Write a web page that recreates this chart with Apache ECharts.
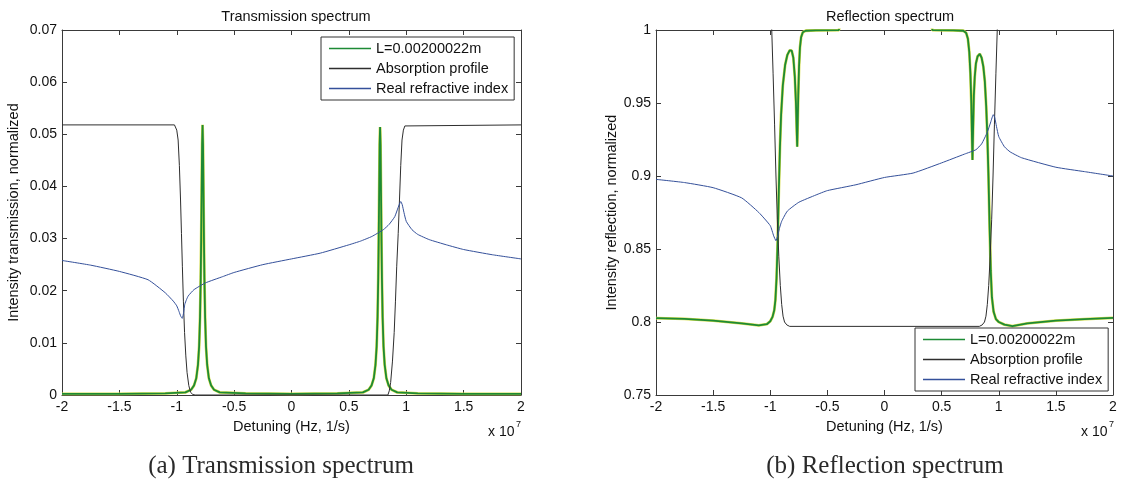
<!DOCTYPE html>
<html>
<head>
<meta charset="utf-8">
<script src="https://cdn.jsdelivr.net/npm/echarts@6/dist/echarts.min.js"></script>
<style>
  html, body { margin: 0; padding: 0; background: #fff; }
  #chart { width: 1123px; height: 485px; }
</style>
</head>
<body>
<div id="chart"></div>
<script>
// Detuning is stored in units of 1e7 Hz (axis shows "x 10^7").
const seriesNames = ['L=0.00200022m', 'Absorption profile', 'Real refractive index'];
const xTicks = { min: -2, max: 2, interval: 0.5 };
const transTicks = { min: 0, max: 0.07, interval: 0.01 };
const reflTicks = { min: 0.75, max: 1, interval: 0.05 };

// Transmission: cavity signal for L = 0.00200022 m
const transSignal = [
  [-2, 0.0002], [-1.5, 0.0002], [-1.1, 0.0003], [-0.925, 0.0005], [-0.875, 0.001],
  [-0.85, 0.0018], [-0.83, 0.0032], [-0.815, 0.0058], [-0.805, 0.0093], [-0.797, 0.015],
  [-0.791, 0.0225], [-0.787, 0.03], [-0.783, 0.039], [-0.779, 0.048], [-0.775, 0.0518],
  [-0.771, 0.048], [-0.767, 0.039], [-0.763, 0.03], [-0.759, 0.0225], [-0.753, 0.015],
  [-0.745, 0.0093], [-0.735, 0.0058], [-0.72, 0.0032], [-0.7, 0.0018], [-0.675, 0.001],
  [-0.625, 0.0005], [-0.4, 0.0003], [0, 0.0002], [0.4, 0.0003], [0.622, 0.0005],
  [0.672, 0.001], [0.697, 0.0018], [0.717, 0.0032], [0.732, 0.0058], [0.742, 0.0093],
  [0.75, 0.015], [0.756, 0.0225], [0.76, 0.03], [0.764, 0.039], [0.768, 0.048],
  [0.772, 0.0514], [0.776, 0.048], [0.78, 0.039], [0.784, 0.03], [0.788, 0.0225],
  [0.794, 0.015], [0.802, 0.0093], [0.812, 0.0058], [0.827, 0.0032], [0.847, 0.0018],
  [0.872, 0.001], [0.922, 0.0005], [1.1, 0.0003], [1.5, 0.0002], [2, 0.0002]
];

// Transmission: absorption profile
const transAbsorption = [
  [-2, 0.0518], [-1.02, 0.0518], [-1.0, 0.0508], [-0.988, 0.0489], [-0.977, 0.044],
  [-0.967, 0.0374], [-0.959, 0.031], [-0.951, 0.0247], [-0.942, 0.018], [-0.932, 0.012],
  [-0.921, 0.0075], [-0.91, 0.0043], [-0.895, 0.0018], [-0.879, 0.0005], [-0.86, 0.0001],
  [-0.84, 0], [0.84, 0], [0.852, 0.0008], [0.864, 0.0024], [0.88, 0.0065],
  [0.895, 0.012], [0.906, 0.018], [0.917, 0.0247], [0.93, 0.031], [0.941, 0.0374],
  [0.952, 0.044], [0.963, 0.0489], [0.975, 0.0508], [0.988, 0.0516], [1.0, 0.0518],
  [2, 0.0518]
];

// Transmission: real part of the refractive index
const transIndex = [
  [-2, 0.0258], [-1.75, 0.0249], [-1.5, 0.0237], [-1.25, 0.0221], [-1.1, 0.0196],
  [-1.03, 0.018], [-1.0, 0.0171], [-0.98, 0.016], [-0.965, 0.0151], [-0.952, 0.0147],
  [-0.94, 0.0158], [-0.93, 0.0174], [-0.915, 0.0183], [-0.9, 0.019], [-0.85, 0.0202],
  [-0.75, 0.0215], [-0.6, 0.0227], [-0.5, 0.0235], [-0.25, 0.025], [0, 0.0261],
  [0.25, 0.0272], [0.5, 0.0288], [0.6, 0.0295], [0.7, 0.0304], [0.8, 0.0317],
  [0.85, 0.0327], [0.9, 0.0342], [0.93, 0.036], [0.952, 0.0371], [0.965, 0.0365],
  [0.98, 0.035], [1.0, 0.0333], [1.05, 0.0317], [1.1, 0.0308], [1.2, 0.0298],
  [1.35, 0.0288], [1.5, 0.0279], [1.75, 0.0269], [2, 0.0261]
];

// Reflection: cavity signal for L = 0.00200022 m
const reflSignal = [
  [-2, 0.8027], [-1.75, 0.8022], [-1.5, 0.801], [-1.25, 0.799], [-1.1, 0.7977],
  [-1.03, 0.7985], [-1.0, 0.8005], [-0.98, 0.8035], [-0.965, 0.808], [-0.955, 0.815],
  [-0.945, 0.83], [-0.935, 0.855], [-0.925, 0.89], [-0.915, 0.92], [-0.905, 0.942],
  [-0.89, 0.962], [-0.87, 0.976], [-0.85, 0.983], [-0.83, 0.986], [-0.812, 0.9858],
  [-0.798, 0.981], [-0.785, 0.968], [-0.775, 0.95], [-0.768, 0.93], [-0.764, 0.92],
  [-0.76, 0.935], [-0.755, 0.955], [-0.748, 0.975], [-0.74, 0.988], [-0.73, 0.995],
  [-0.715, 0.9985], [-0.69, 0.9995], [-0.6, 0.9998], [-0.4, 0.9999], [-0.38, 1.006],
  [0.4, 1.006], [0.42, 0.9999], [0.6, 0.9998], [0.69, 0.9995], [0.715, 0.998],
  [0.73, 0.994], [0.742, 0.985], [0.752, 0.97], [0.76, 0.95], [0.766, 0.925],
  [0.77, 0.911], [0.775, 0.93], [0.782, 0.955], [0.79, 0.968], [0.8, 0.977],
  [0.815, 0.982], [0.834, 0.9836], [0.85, 0.981], [0.865, 0.975], [0.878, 0.965],
  [0.89, 0.948], [0.9, 0.928], [0.91, 0.9], [0.92, 0.865], [0.93, 0.835],
  [0.94, 0.817], [0.955, 0.807], [0.975, 0.802], [1.0, 0.8], [1.05, 0.7982],
  [1.12, 0.7972], [1.25, 0.799], [1.5, 0.801], [1.75, 0.802], [2, 0.8028]
];

// Reflection: absorption profile (runs above the top of the axis outside the band)
const reflAbsorption = [
  [-2, 1.06], [-1.02, 1.06], [-1.0, 1.03], [-0.987, 1.0], [-0.975, 0.97],
  [-0.962, 0.935], [-0.95, 0.9], [-0.938, 0.87], [-0.925, 0.845], [-0.912, 0.825],
  [-0.9, 0.812], [-0.888, 0.804], [-0.875, 0.8], [-0.855, 0.798], [-0.83, 0.797],
  [0.83, 0.797], [0.855, 0.798], [0.875, 0.8], [0.888, 0.804], [0.9, 0.812],
  [0.912, 0.825], [0.925, 0.845], [0.938, 0.87], [0.95, 0.9], [0.962, 0.935],
  [0.975, 0.97], [0.987, 1.0], [1.0, 1.03], [1.02, 1.06], [2, 1.06]
];

// Reflection: real part of the refractive index
const reflIndex = [
  [-2, 0.8977], [-1.75, 0.8955], [-1.5, 0.892], [-1.25, 0.885], [-1.1, 0.875],
  [-1.0, 0.866], [-0.97, 0.859], [-0.95, 0.8557], [-0.935, 0.859], [-0.92, 0.864],
  [-0.9, 0.869], [-0.85, 0.876], [-0.75, 0.882], [-0.6, 0.887], [-0.5, 0.89],
  [-0.25, 0.894], [0, 0.899], [0.25, 0.902], [0.5, 0.909], [0.7, 0.915],
  [0.8, 0.918], [0.85, 0.922], [0.9, 0.93], [0.93, 0.937], [0.952, 0.942],
  [0.965, 0.94], [0.98, 0.934], [1.0, 0.927], [1.05, 0.92], [1.1, 0.9165],
  [1.2, 0.9125], [1.5, 0.906], [1.75, 0.903], [2, 0.9]
];

const FONT = '"Liberation Sans", Arial, sans-serif';
const SERIF = '"Liberation Serif", "DejaVu Serif", serif';
const FS = 14.5;
const AXIS_COLOR = '#3a3a3a';
const TEXT_COLOR = '#111';
const GREEN = '#1d8a35';
const HALO = '#d4dc4a';
const BLACK = '#2e2e2e';
const BLUE = '#34509a';

const grids = [
  { left: 62, top: 30, width: 459, height: 365 },
  { left: 656, top: 30, width: 457, height: 365 }
];

function fmt(v) { return String(+v.toFixed(2)); }

function xAxes(gi) {
  const base = {
    type: 'value', gridIndex: gi, min: xTicks.min, max: xTicks.max, interval: xTicks.interval,
    splitLine: { show: false },
    axisLine: { onZero: false, lineStyle: { color: AXIS_COLOR, width: 1 } },
    axisTick: { inside: true, length: 5, lineStyle: { color: AXIS_COLOR } }
  };
  return [
    Object.assign({}, base, {
      position: 'bottom',
      name: 'Detuning (Hz, 1/s)', nameLocation: 'middle', nameGap: 24,
      nameTextStyle: { fontFamily: FONT, fontSize: FS, color: TEXT_COLOR },
      axisLabel: { fontFamily: FONT, fontSize: 14, color: TEXT_COLOR, margin: 5, formatter: fmt }
    }),
    Object.assign({}, base, { position: 'top', axisLabel: { show: false } })
  ];
}

function yAxes(gi, ticks, name, gap) {
  const base = {
    type: 'value', gridIndex: gi, min: ticks.min, max: ticks.max, interval: ticks.interval,
    splitLine: { show: false },
    axisLine: { onZero: false, lineStyle: { color: AXIS_COLOR, width: 1 } },
    axisTick: { inside: true, length: 5, lineStyle: { color: AXIS_COLOR } }
  };
  return [
    Object.assign({}, base, {
      position: 'left',
      name: name, nameLocation: 'middle', nameGap: gap, nameRotate: 90,
      nameTextStyle: { fontFamily: FONT, fontSize: FS, color: TEXT_COLOR },
      axisLabel: { fontFamily: FONT, fontSize: 14, color: TEXT_COLOR, margin: 5, formatter: fmt }
    }),
    Object.assign({}, base, { position: 'right', axisLabel: { show: false } })
  ];
}

function lines(gi, signal, absorption, index) {
  const common = { type: 'line', xAxisIndex: gi * 2, yAxisIndex: gi * 2, showSymbol: false, symbol: 'none', clip: true, animation: false };
  return [
    Object.assign({}, common, { name: 'halo', data: signal, lineStyle: { color: HALO, width: 2.8 }, itemStyle: { color: HALO }, silent: true }),
    Object.assign({}, common, { name: seriesNames[0], data: signal, lineStyle: { color: GREEN, width: 1.8 }, itemStyle: { color: GREEN } }),
    Object.assign({}, common, { name: seriesNames[1], data: absorption, lineStyle: { color: BLACK, width: 1 }, itemStyle: { color: BLACK } }),
    Object.assign({}, common, { name: seriesNames[2], data: index, smooth: 0.15, lineStyle: { color: BLUE, width: 1 }, itemStyle: { color: BLUE } })
  ];
}

function legend(left, top) {
  return {
    left: left, top: top, orient: 'vertical',
    data: seriesNames.map(function (n) { return { name: n, icon: 'rect' }; }),
    itemWidth: 42, itemHeight: 1.5, itemGap: 5,
    padding: [4, 6, 4, 8],
    borderColor: '#333', borderWidth: 1, backgroundColor: '#fff',
    textStyle: { fontFamily: FONT, fontSize: FS, color: TEXT_COLOR, lineHeight: 15 },
    selectedMode: false
  };
}

const option = {
  backgroundColor: '#fff',
  animation: false,
  title: [
    { text: 'Transmission spectrum', left: 291, top: 4, textAlign: 'center',
      textStyle: { fontFamily: FONT, fontSize: FS, fontWeight: 'normal', color: TEXT_COLOR } },
    { text: 'Reflection spectrum', left: 885, top: 4, textAlign: 'center',
      textStyle: { fontFamily: FONT, fontSize: FS, fontWeight: 'normal', color: TEXT_COLOR } }
  ],
  grid: grids,
  xAxis: xAxes(0).concat(xAxes(1)),
  yAxis: yAxes(0, transTicks, 'Intensity transmission, normalized', 41)
    .concat(yAxes(1, reflTicks, 'Intensity reflection, normalized', 37)),
  legend: [legend(321, 37), legend(915, 328)],
  series: lines(0, transSignal, transAbsorption, transIndex)
    .concat(lines(1, reflSignal, reflAbsorption, reflIndex)),
  graphic: [
    { type: 'text', left: 488, top: 425, style: { text: 'x 10', font: '14px ' + FONT, fill: TEXT_COLOR } },
    { type: 'text', left: 516, top: 420, style: { text: '7', font: '9px ' + FONT, fill: TEXT_COLOR } },
    { type: 'text', left: 1081, top: 425, style: { text: 'x 10', font: '14px ' + FONT, fill: TEXT_COLOR } },
    { type: 'text', left: 1109, top: 420, style: { text: '7', font: '9px ' + FONT, fill: TEXT_COLOR } },
    { type: 'text', x: 281, y: 466, style: { text: '(a) Transmission spectrum', font: '25px ' + SERIF, fill: '#2a2a2a', align: 'center', verticalAlign: 'middle' } },
    { type: 'text', x: 885, y: 466, style: { text: '(b) Reflection spectrum', font: '25px ' + SERIF, fill: '#2a2a2a', align: 'center', verticalAlign: 'middle' } }
  ]
};

const chart = echarts.init(document.getElementById('chart'), null, { renderer: 'canvas' });
chart.setOption(option);
</script>
</body>
</html>
